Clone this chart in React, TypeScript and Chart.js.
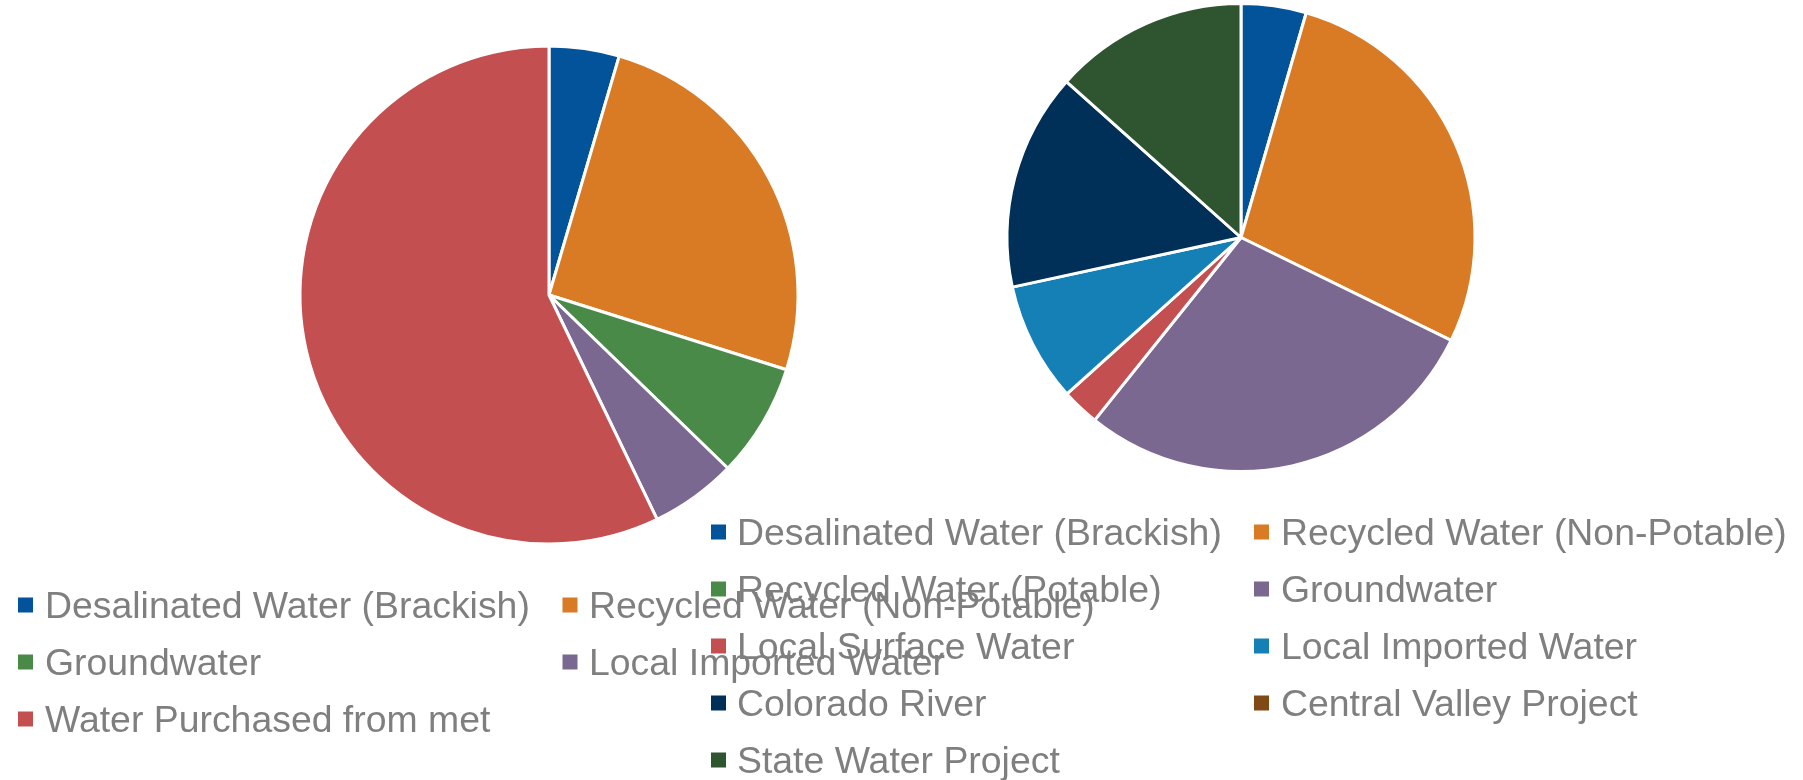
import React, { useEffect, useRef } from "react";
import { Chart, registerables } from "chart.js";

Chart.register(...registerables);

// ---- Data ----
const leftLabels = [
  "Desalinated Water (Brackish)",
  "Recycled Water (Non-Potable)",
  "Groundwater",
  "Local Imported Water",
  "Water Purchased from met",
];
const leftValues = [4.55, 25.3, 7.4, 5.6, 57.15];
const leftColors = ["#02539A", "#D97A24", "#4A8A48", "#7A6890", "#C44F51"];

const rightLabels = [
  "Desalinated Water (Brackish)",
  "Recycled Water (Non-Potable)",
  "Recycled Water (Potable)",
  "Groundwater",
  "Local Surface Water",
  "Local Imported Water",
  "Colorado River",
  "Central Valley Project",
  "State Water Project",
];
const rightValues = [4.5, 27.75, 0, 28.5, 2.6, 8.25, 15.0, 0, 13.4];
const rightColors = [
  "#02539A",
  "#D97A24",
  "#4A8A48",
  "#7A6890",
  "#C44F51",
  "#1580B5",
  "#003057",
  "#7F4A16",
  "#2E5530",
];

const W = 1803;
const H = 780;
const FONT = "'Liberation Sans', Arial, sans-serif";

// Legend drawn in a fixed grid (columns x rows), using the chart's own labels/colors
const gridLegend = {
  id: "gridLegend",
  afterDraw(chart: any, _args: any, opts: any) {
    const ctx = chart.ctx;
    const labels: string[] = chart.data.labels;
    const colors: string[] = chart.data.datasets[0].backgroundColor;
    const ncol = opts.columns.length;
    ctx.save();
    ctx.font = `${opts.fontSize}px ${FONT}`;
    ctx.textBaseline = "alphabetic";
    ctx.textAlign = "left";
    labels.forEach((label, i) => {
      const c = opts.columns[i % ncol];
      const row = Math.floor(i / ncol);
      const cy = opts.rowStart + row * opts.rowGap;
      ctx.fillStyle = colors[i];
      ctx.fillRect(c.box, cy - opts.box / 2, opts.box, opts.box);
      ctx.fillStyle = opts.color;
      ctx.fillText(label, c.text, cy + opts.baselineShift);
    });
    ctx.restore();
  },
};

function makeChart(
  canvas: HTMLCanvasElement,
  labels: string[],
  values: number[],
  colors: string[],
  padding: any,
  legend: any
) {
  return new Chart(canvas, {
    type: "pie",
    data: {
      labels,
      datasets: [
        {
          data: values,
          backgroundColor: colors,
          borderColor: "#FFFFFF",
          borderWidth: 3,
        },
      ],
    },
    options: {
      responsive: false,
      animation: false,
      devicePixelRatio: 1,
      layout: { padding },
      plugins: {
        legend: { display: false },
        tooltip: { enabled: false },
        gridLegend: legend,
      } as any,
    },
    plugins: [gridLegend as any],
  });
}

export default function App() {
  const leftRef = useRef<HTMLCanvasElement>(null);
  const rightRef = useRef<HTMLCanvasElement>(null);

  useEffect(() => {
    document.body.style.margin = "0";
    const legendBase = {
      fontSize: 37.4,
      color: "#7F7F7F",
      box: 15,
      rowGap: 57,
      baselineShift: 13,
    };
    const left = makeChart(
      leftRef.current!,
      leftLabels,
      leftValues,
      leftColors,
      { left: 298.5, top: 44.5, right: W - (298.5 + 501), bottom: H - (44.5 + 501) },
      {
        ...legendBase,
        rowStart: 605,
        columns: [
          { box: 18, text: 45 },
          { box: 562.5, text: 589 },
        ],
      }
    );
    const right = makeChart(
      rightRef.current!,
      rightLabels,
      rightValues,
      rightColors,
      { left: 1005.5, top: 2, right: W - (1005.5 + 471), bottom: H - (2 + 471) },
      {
        ...legendBase,
        rowStart: 532,
        columns: [
          { box: 711, text: 737 },
          { box: 1254, text: 1281 },
        ],
      }
    );
    return () => {
      left.destroy();
      right.destroy();
    };
  }, []);

  const canvasStyle: React.CSSProperties = {
    position: "absolute",
    left: 0,
    top: 0,
    width: W,
    height: H,
  };

  return (
    <div style={{ position: "relative", width: W, height: H, background: "#FFFFFF" }}>
      <canvas ref={leftRef} width={W} height={H} style={canvasStyle} />
      <canvas ref={rightRef} width={W} height={H} style={canvasStyle} />
    </div>
  );
}
